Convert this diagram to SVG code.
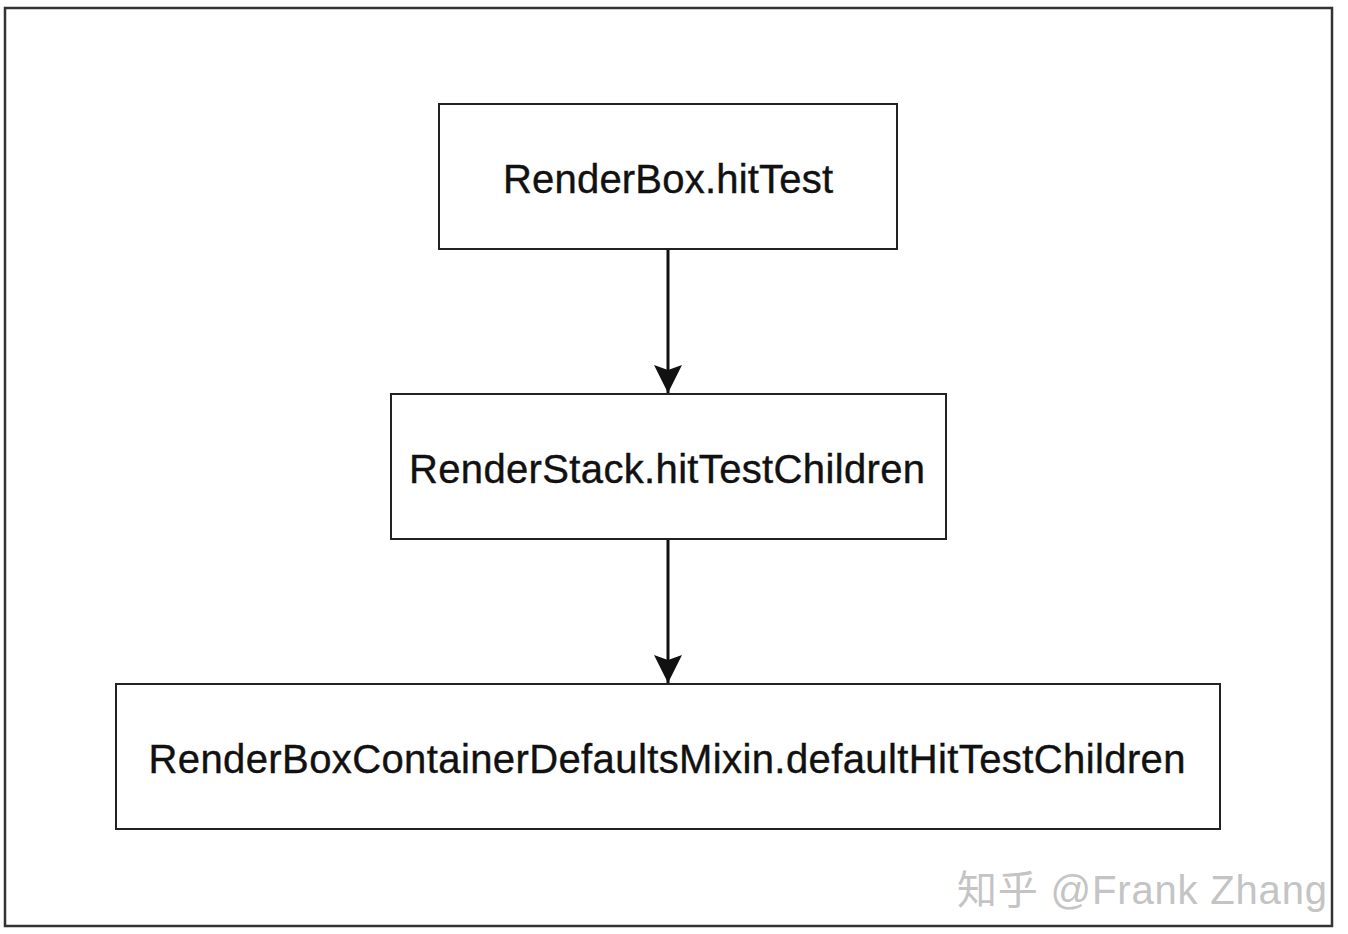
<svg xmlns="http://www.w3.org/2000/svg" width="1348" height="934" viewBox="0 0 1348 934">
<defs>
<style>
.box{fill:#fff;stroke:#222;stroke-width:2}
.lbl{font-family:"Liberation Sans",Arial,sans-serif;font-size:40px;fill:#111;text-anchor:middle;stroke:#111;stroke-width:0.4}
.edge{stroke:#111;stroke-width:3;fill:none}
</style>
<marker id="arr" markerUnits="userSpaceOnUse" markerWidth="30" markerHeight="30" refX="28" refY="14" orient="auto">
<path d="M0,0 L28,14 L0,28 L5,14 Z" fill="#111"/>
</marker>
</defs>
<rect width="1348" height="934" fill="#fff"/>
<rect x="5" y="8" width="1327" height="918" fill="none" stroke="#333" stroke-width="2.5"/>
<g id="edges">
<line class="edge" x1="668" y1="250" x2="668" y2="393" marker-end="url(#arr)"/>
<line class="edge" x1="668" y1="540" x2="668" y2="683" marker-end="url(#arr)"/>
</g>
<g id="node1">
<rect class="box" x="439" y="104" width="458" height="145"/>
<text class="lbl" x="668" y="193" textLength="330">RenderBox.hitTest</text>
</g>
<g id="node2">
<rect class="box" x="391" y="394" width="555" height="145"/>
<text class="lbl" x="667" y="483" textLength="516">RenderStack.hitTestChildren</text>
</g>
<g id="node3">
<rect class="box" x="116" y="684" width="1104" height="145"/>
<text class="lbl" x="667" y="773" textLength="1037">RenderBoxContainerDefaultsMixin.defaultHitTestChildren</text>
</g>
<text x="1327" y="904" font-family="'Liberation Sans','Noto Sans CJK SC',sans-serif" font-size="40" fill="#c4c4c4" text-anchor="end" textLength="370">知乎 @Frank Zhang</text>
</svg>
